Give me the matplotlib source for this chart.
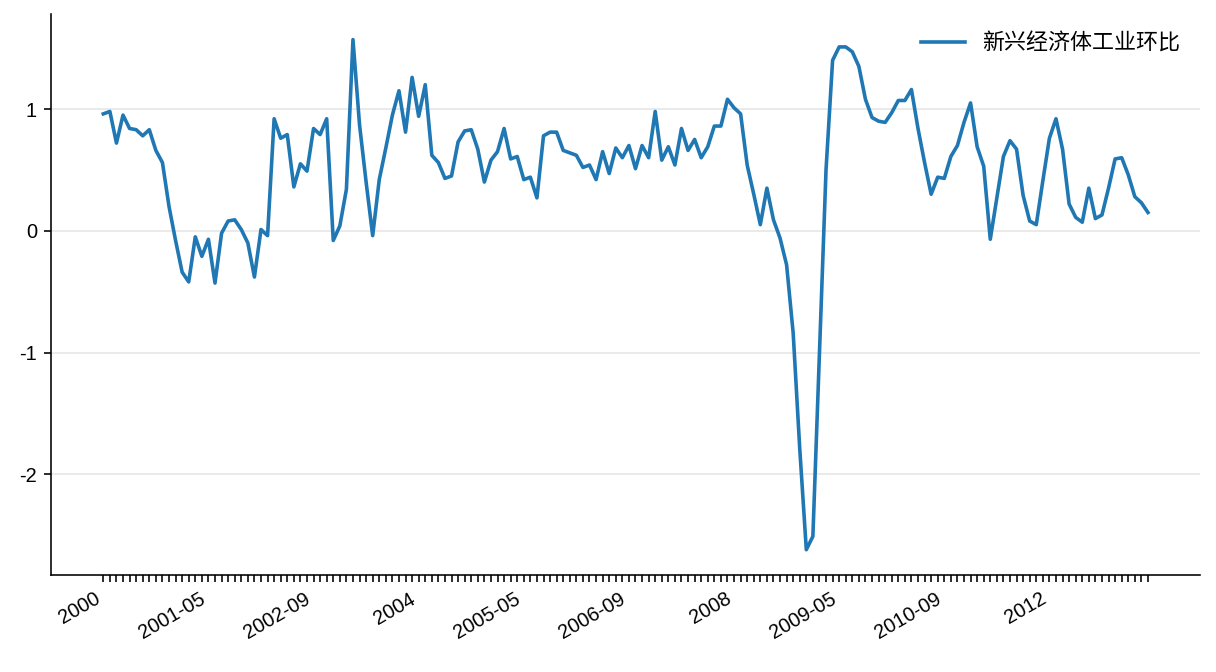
import matplotlib
matplotlib.use("Agg")
import matplotlib.pyplot as plt
import pandas as pd

plt.rcParams["font.family"] = ["Liberation Sans", "Noto Sans CJK SC", "DejaVu Sans"]
plt.rcParams["axes.unicode_minus"] = False

# monthly values, 2000-01 .. 2013-04
months = pd.period_range("2000-01", periods=160, freq="M")
values = [
    0.96, 0.98, 0.72, 0.95, 0.84, 0.83, 0.78, 0.83, 0.66, 0.56,
    0.20, -0.08, -0.34, -0.42, -0.05, -0.21, -0.07, -0.43, -0.02, 0.08,
    0.09, 0.01, -0.10, -0.38, 0.01, -0.04, 0.92, 0.76, 0.79, 0.36,
    0.55, 0.49, 0.84, 0.79, 0.92, -0.08, 0.04, 0.34, 1.57, 0.87,
    0.40, -0.04, 0.42, 0.68, 0.95, 1.15, 0.81, 1.26, 0.94, 1.20,
    0.62, 0.56, 0.43, 0.45, 0.73, 0.82, 0.83, 0.67, 0.40, 0.58,
    0.65, 0.84, 0.59, 0.61, 0.42, 0.44, 0.27, 0.78, 0.81, 0.81,
    0.66, 0.64, 0.62, 0.52, 0.54, 0.42, 0.65, 0.47, 0.68, 0.60,
    0.70, 0.51, 0.70, 0.60, 0.98, 0.58, 0.69, 0.54, 0.84, 0.66,
    0.75, 0.60, 0.69, 0.86, 0.86, 1.08, 1.01, 0.96, 0.54, 0.30,
    0.05, 0.35, 0.09, -0.06, -0.28, -0.84, -1.79, -2.62, -2.51, -1.01,
    0.50, 1.40, 1.51, 1.51, 1.47, 1.35, 1.08, 0.93, 0.90, 0.89,
    0.97, 1.07, 1.07, 1.16, 0.84, 0.56, 0.30, 0.44, 0.43, 0.61,
    0.70, 0.89, 1.05, 0.69, 0.53, -0.07, 0.27, 0.61, 0.74, 0.67,
    0.29, 0.08, 0.05, 0.41, 0.76, 0.92, 0.67, 0.22, 0.11, 0.07,
    0.35, 0.10, 0.13, 0.35, 0.59, 0.60, 0.46, 0.28, 0.23, 0.15,
]
series_name = "新兴经济体工业环比"
label_step = 16


def month_label(p):
    return str(p.year) if p.month == 1 else p.strftime("%Y-%m")


dpi = 144
fig, ax = plt.subplots(figsize=(1216 / dpi, 672 / dpi), dpi=dpi)
fig.subplots_adjust(left=0.042, right=0.987, top=0.979, bottom=0.144)

pos = list(range(len(values)))
ax.plot(pos, values, color="#1f77b4", linewidth=1.8, label=series_name)

ax.set_xticks(pos)
ax.set_xticklabels([month_label(p) if i % label_step == 0 else "" for i, p in enumerate(months)],
                   rotation=30, ha="right", fontsize=10)
ax.set_yticks([-2, -1, 0, 1])
ax.tick_params(axis="y", labelsize=10)

ax.grid(axis="y", color="#e5e5e5", linewidth=0.8)
ax.set_axisbelow(True)
for side in ["top", "right"]:
    ax.spines[side].set_visible(False)

ax.legend(loc="upper right", frameon=False, fontsize=11)

fig.savefig("out.png", dpi=dpi)
